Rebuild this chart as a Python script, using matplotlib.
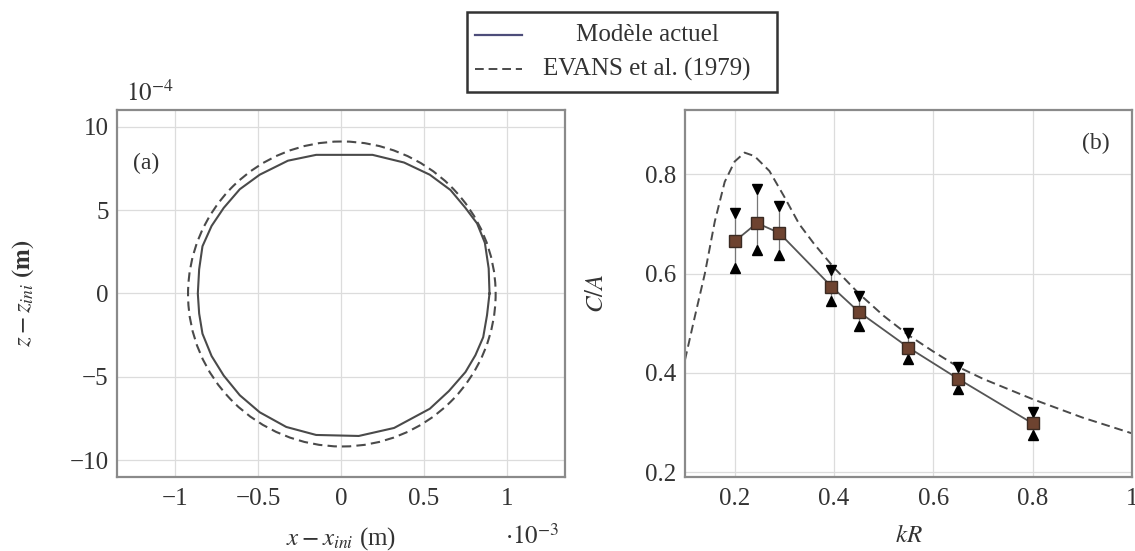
import matplotlib
matplotlib.use("Agg")
import matplotlib.pyplot as plt
from matplotlib.patches import Ellipse, Rectangle
from matplotlib.lines import Line2D
from matplotlib.ticker import FuncFormatter

plt.rcParams["font.family"] = "serif"
plt.rcParams["font.serif"] = ["Liberation Serif", "DejaVu Serif"]
plt.rcParams["mathtext.fontset"] = "stix"
plt.rcParams["font.size"] = 18

# --- panel (a): contour, x in 1e-3 m, z in 1e-4 m ---
contour_x = [0.895, 0.89, 0.867, 0.82, 0.75, 0.66, 0.535, 0.38, 0.19, -0.15, -0.32,
             -0.49, -0.61, -0.707, -0.78, -0.835, -0.855, -0.863, -0.855, -0.835,
             -0.78, -0.707, -0.61, -0.49, -0.33, -0.15, 0.107, 0.32, 0.535, 0.65,
             0.75, 0.81, 0.857, 0.88, 0.895]
contour_z = [0.0, 1.5, 3.04, 4.2, 5.13, 6.2, 7.12, 7.85, 8.31, 8.31, 7.96,
             7.12, 6.25, 5.13, 4.05, 2.83, 1.45, 0.0, -1.2, -2.41,
             -3.75, -4.92, -6.1, -7.12, -8.0, -8.48, -8.54, -8.06, -6.91, -5.85,
             -4.71, -3.7, -2.62, -1.3, 0.0]
evans_center = (0.005, -0.03)
evans_rx = 0.927
evans_rz = 9.14

# --- panel (b): C/A against kR ---
kr = [0.2, 0.245, 0.29, 0.395, 0.45, 0.55, 0.65, 0.8]
ca = [0.665, 0.702, 0.682, 0.574, 0.523, 0.451, 0.388, 0.298]
ca_hi = [0.723, 0.770, 0.736, 0.608, 0.554, 0.481, 0.412, 0.321]
ca_lo = [0.611, 0.648, 0.637, 0.544, 0.494, 0.427, 0.367, 0.275]

evans_kr = [0.1, 0.12, 0.14, 0.16, 0.18, 0.2, 0.22, 0.24, 0.27, 0.3, 0.33, 0.36,
            0.4, 0.45, 0.5, 0.55, 0.6, 0.65, 0.7, 0.8, 0.9, 1.0]
evans_ca = [0.426, 0.514, 0.60, 0.705, 0.785, 0.826, 0.844, 0.837, 0.807, 0.755,
            0.700, 0.660, 0.612, 0.560, 0.515, 0.476, 0.443, 0.412, 0.388, 0.347,
            0.31, 0.278]

DASH = (0, (4.5, 2.5))
LINE_COL = "#4a4a4a"
GRID_COL = "#dcdcdc"
FRAME_COL = "#8a8a8a"
TEXT_COL = "#333333"


def fmt(v, pos):
    s = "%g" % round(v, 3)
    return s.replace("-", "\u2212")


def style_axes(ax):
    ax.grid(True, color=GRID_COL, linewidth=0.9)
    ax.set_axisbelow(True)
    for sp in ax.spines.values():
        sp.set_color(FRAME_COL)
        sp.set_linewidth(1.6)
    ax.tick_params(length=0, colors=TEXT_COL, labelsize=18)
    ax.tick_params(axis="x", pad=8)
    ax.tick_params(axis="y", pad=6)
    ax.xaxis.set_major_formatter(FuncFormatter(fmt))
    ax.yaxis.set_major_formatter(FuncFormatter(fmt))


fig = plt.figure(figsize=(11.35, 5.51), dpi=100)
ax1 = fig.add_axes([0.1031, 0.1343, 0.3947, 0.6661])
ax2 = fig.add_axes([0.6035, 0.1343, 0.3938, 0.6661])

# panel (a)
ax1.plot(contour_x, contour_z, color=LINE_COL, lw=1.5)
ax1.add_patch(Ellipse(evans_center, 2 * evans_rx, 2 * evans_rz, fill=False,
                      edgecolor=LINE_COL, lw=1.5, linestyle=DASH))
ax1.set_xlim(-1.35, 1.35)
ax1.set_ylim(-11, 11)
ax1.set_xticks([-1, -0.5, 0, 0.5, 1])
ax1.set_yticks([-10, -5, 0, 5, 10])
style_axes(ax1)
ax1.set_xlabel(r"$x - x_{ini}$ (m)", color=TEXT_COL, fontsize=18)
ax1.xaxis.set_label_coords(0.5, -0.13)
ax1.set_ylabel(r"$z - z_{ini}$ $\mathbf{(m)}$", color=TEXT_COL, fontsize=18)
ax1.yaxis.set_label_coords(-0.181, 0.5)
ax1.text(0.065, 0.855, "(a)", transform=ax1.transAxes, ha="center", va="center",
         color=TEXT_COL, fontsize=17)
ax1.text(0.074, 1.045, r"$10^{-4}$", transform=ax1.transAxes, ha="center",
         va="center", color=TEXT_COL, fontsize=18)
ax1.text(0.926, -0.163, r"$\cdot 10^{-3}$", transform=ax1.transAxes, ha="center",
         va="center", color=TEXT_COL, fontsize=18)

# panel (b)
ax2.plot(evans_kr, evans_ca, color=LINE_COL, lw=1.4, linestyle=DASH)
ax2.vlines(kr, ca_lo, ca_hi, color="#777777", lw=0.9)
ax2.plot(kr, ca_hi, linestyle="none", marker="v", color="black", markersize=7)
ax2.plot(kr, ca_lo, linestyle="none", marker="^", color="black", markersize=7)
ax2.plot(kr, ca, color="#555555", lw=1.3, marker="s", markersize=9,
         markerfacecolor="#6e4330", markeredgecolor="#3a2a22", markeredgewidth=1.0)
ax2.set_xlim(0.1, 1.0)
ax2.set_ylim(0.19, 0.93)
ax2.set_xticks([0.2, 0.4, 0.6, 0.8, 1.0])
ax2.set_yticks([0.2, 0.4, 0.6, 0.8])
style_axes(ax2)
ax2.set_xlabel(r"$kR$", color=TEXT_COL, fontsize=18)
ax2.xaxis.set_label_coords(0.5, -0.13)
ax2.set_ylabel(r"$C/A$", color=TEXT_COL, fontsize=18)
ax2.yaxis.set_label_coords(-0.172, 0.5)
ax2.text(0.92, 0.91, "(b)", transform=ax2.transAxes, ha="center", va="center",
         color=TEXT_COL, fontsize=17)

# legend box, drawn in figure pixels converted to fractions
W, H = 1135.0, 551.0
fig.add_artist(Rectangle((467 / W, 1 - 92 / H), 310 / W, 80 / H,
                         transform=fig.transFigure, fill=False,
                         edgecolor="#333333", lw=1.8))
fig.add_artist(Line2D([475 / W, 522 / W], [1 - 35 / H, 1 - 35 / H],
                      transform=fig.transFigure, color="#4d4d7a", lw=1.6))
fig.add_artist(Line2D([475 / W, 522 / W], [1 - 69 / H, 1 - 69 / H],
                      transform=fig.transFigure, color=LINE_COL, lw=1.4,
                      linestyle=DASH))
fig.text(647 / W, 1 - 35 / H, "Modèle actuel", ha="center", va="center",
         color=TEXT_COL, fontsize=18)
fig.text(647 / W, 1 - 69 / H, "EVANS et al. (1979)", ha="center", va="center",
         color=TEXT_COL, fontsize=18)

fig.savefig("out.png", dpi=100)
